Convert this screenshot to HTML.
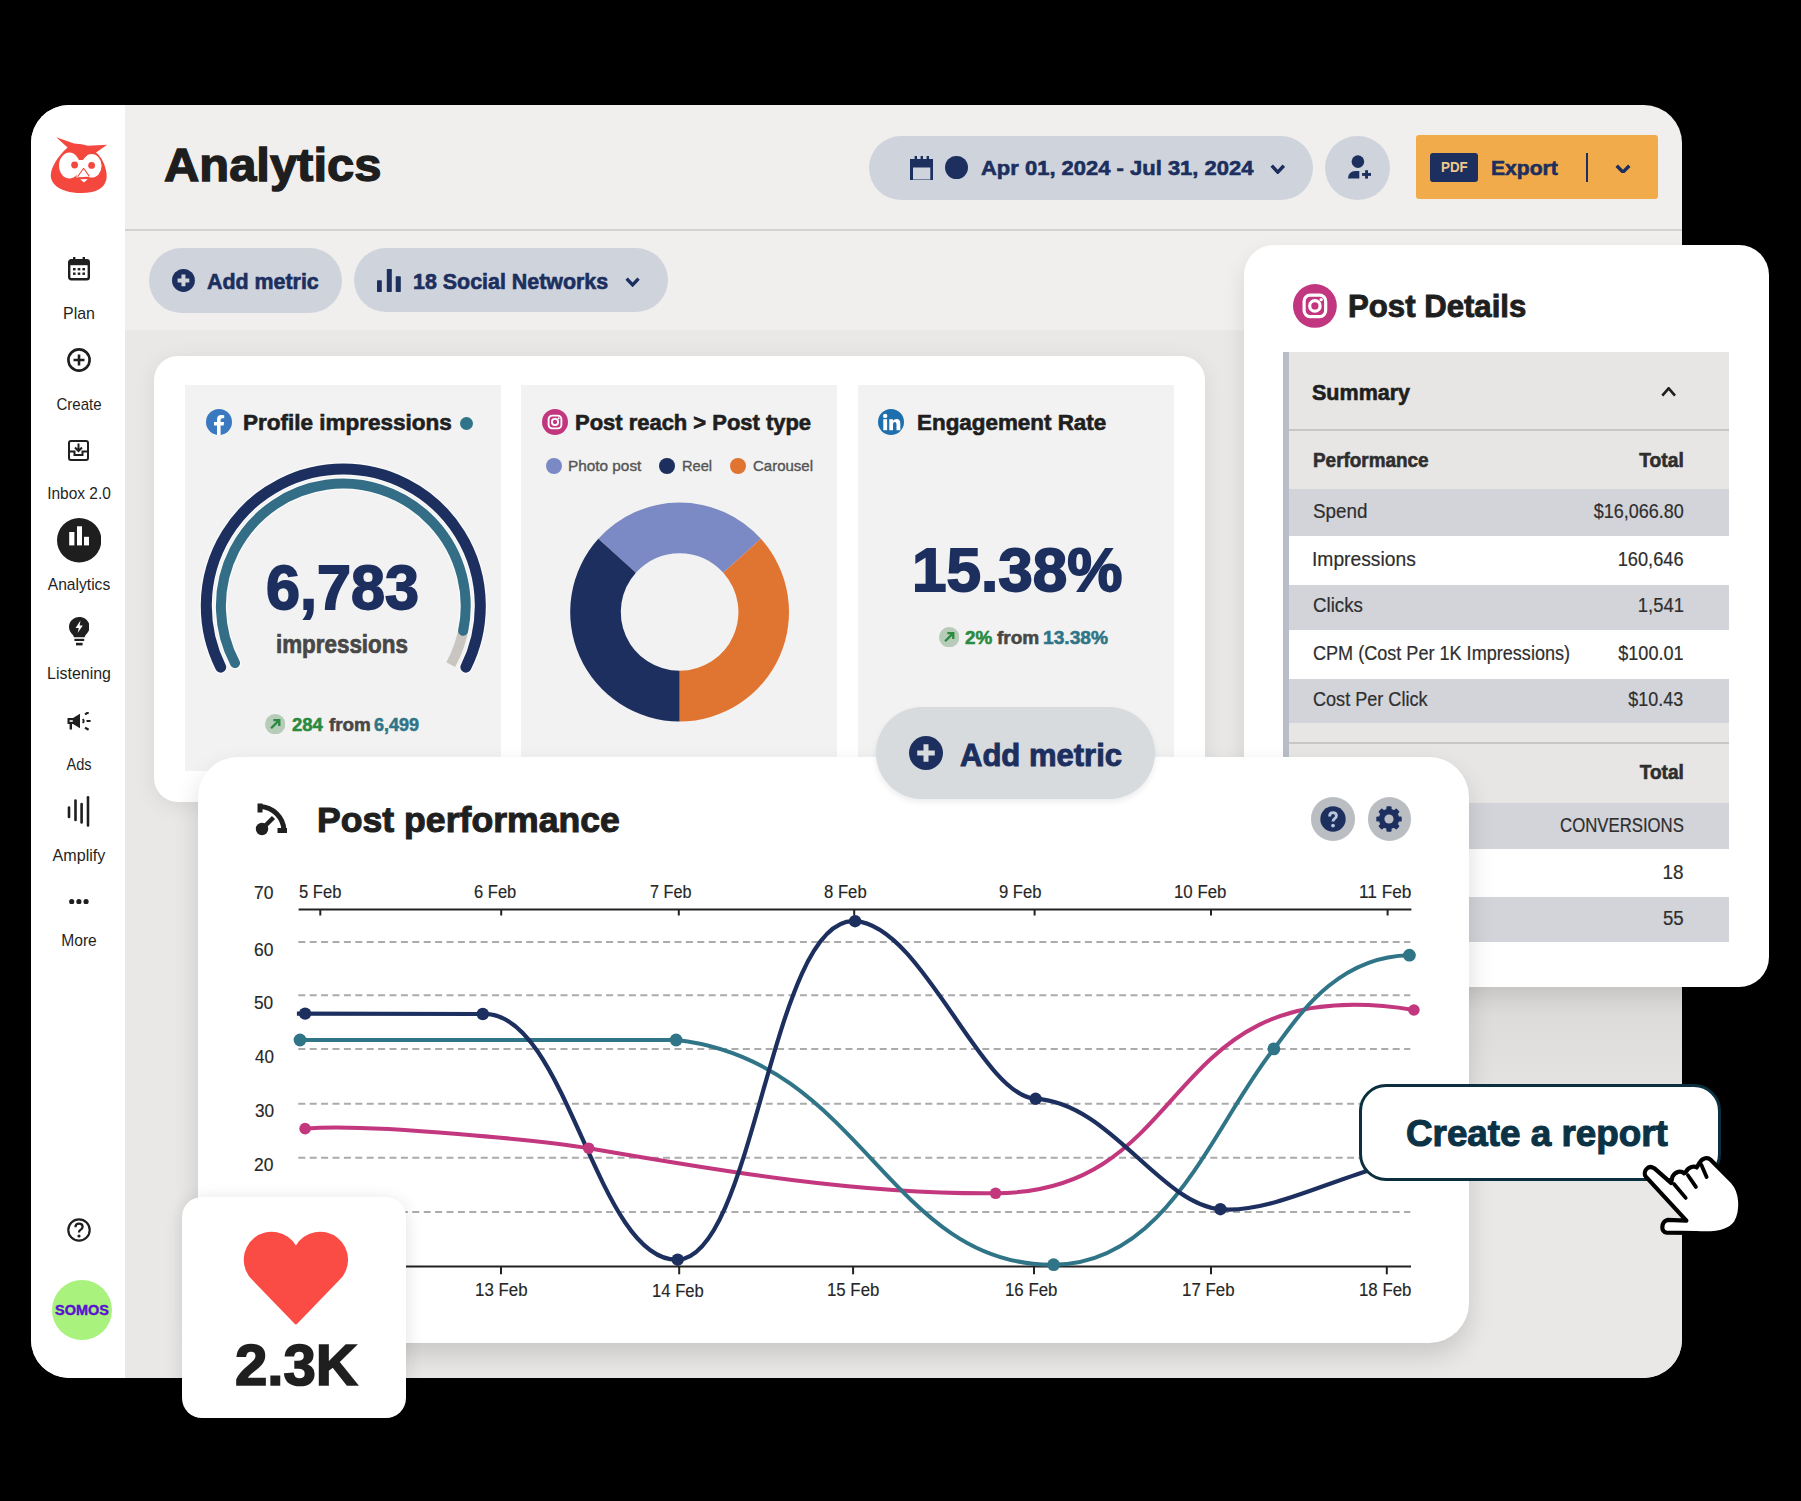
<!DOCTYPE html>
<html><head><meta charset="utf-8"><title>Analytics</title>
<style>
html,body{margin:0;padding:0;}
body{width:1801px;height:1501px;background:#000;position:relative;overflow:hidden;font-family:"Liberation Sans",sans-serif;}
.t{position:absolute;white-space:nowrap;line-height:1;display:block;}
.a{position:absolute;}
svg{display:block;}
</style></head><body>
<div class="a" style="left:31.0px;top:105.0px;width:1651.0px;height:1273.0px;background:#f0efee;border-radius:38px;"></div><div class="a" style="left:31px;top:105px;width:1651px;height:1273px;border-radius:38px;overflow:hidden;"><div class="a" style="left:94px;top:225px;width:1557px;height:1048px;background:#e9e8e7;"></div><div class="a" style="left:0;top:0;width:94px;height:1273px;background:#fff;"></div></div><div class="a" style="left:125.0px;top:229.0px;width:1557.0px;height:2.0px;background:#d3d2d1;"></div><div class="a" style="left:1469.0px;top:987.0px;width:213.0px;height:153.0px;background:linear-gradient(#dad9d8, rgba(233,232,231,0));"></div><svg class="a" style="left:50.0px;top:136.0px;" width="58" height="60" viewBox="0 0 58 60"><path fill="#f4473d" d="M6.2 1.2 L24 7.6 Q32 8.2 38 9.8 L57.2 8.8 L46 16.6 C51.5 21 55.6 29 56.6 38 C57.6 47 52 54 42 56 C34 57.6 24 57.4 16 55 C6 52 0.4 46 0.8 39 C1.2 31 7 21 17.6 11.4 Z"/><ellipse cx="19.4" cy="29.6" rx="10.4" ry="13" fill="#fff"/><ellipse cx="41.6" cy="29.8" rx="10" ry="11.8" fill="#fff"/><path fill="#fff" d="M26.5 24 L37 24 L40.5 40.5 L26.5 41.5 Z"/><path fill="#f4473d" d="M27.2 17 L39.6 17 L33.6 22.8 Z"/><path d="M33.6 32.2 L27.6 40.8 M33.6 32.2 L39.4 40.4 M28.6 41.8 Q34 42.8 39.2 41.4" fill="none" stroke="#f4473d" stroke-width="1.1"/><circle cx="24.6" cy="29" r="3.4" fill="#f4473d"/><circle cx="41.6" cy="29.4" r="3.4" fill="#f4473d"/><path fill="#fff" d="M30.2 43.2 L37.8 43 L34 46.6 Z"/></svg><svg class="a" style="left:68.0px;top:257.0px;" width="22" height="24" viewBox="0 0 22 24"><rect x="1.2" y="3.2" width="19.6" height="19" rx="2" fill="none" stroke="#1f1f1f" stroke-width="2.4"/><rect x="1.2" y="3.2" width="19.6" height="5" fill="#1f1f1f"/><rect x="5" y="0" width="2.4" height="4" fill="#1f1f1f"/><rect x="14.6" y="0" width="2.4" height="4" fill="#1f1f1f"/><g fill="#1f1f1f"><rect x="5" y="11" width="2.6" height="2.4"/><rect x="9.7" y="11" width="2.6" height="2.4"/><rect x="14.4" y="11" width="2.6" height="2.4"/><rect x="5" y="15.5" width="2.6" height="2.4"/><rect x="9.7" y="15.5" width="2.6" height="2.4"/><rect x="14.4" y="15.5" width="2.6" height="2.4"/></g></svg><span class="t" id="t0" style="top:306.01px;font-size:15.99px;font-weight:400;color:#1f1f1f;left:79.06px;transform-origin:50% 0;transform:translateX(-50%) scaleX(0.9983);">Plan</span><svg class="a" style="left:67.2px;top:348.0px;" width="24" height="24" viewBox="0 0 24 24"><circle cx="12" cy="12" r="10.6" fill="none" stroke="#1f1f1f" stroke-width="2.6"/><path d="M12 6.5 V17.5 M6.5 12 H17.5" stroke="#1f1f1f" stroke-width="2.6"/></svg><span class="t" id="t1" style="top:397.01px;font-size:15.99px;font-weight:400;color:#1f1f1f;left:79.15px;transform-origin:50% 0;transform:translateX(-50%) scaleX(0.9427);">Create</span><svg class="a" style="left:68.0px;top:440.0px;" width="21" height="21" viewBox="0 0 21 21"><rect x="1" y="1" width="19" height="19" rx="2" fill="none" stroke="#1f1f1f" stroke-width="2"/><path d="M1 11.5 H6.5 V15 H14.5 V11.5 H20" fill="none" stroke="#1f1f1f" stroke-width="2"/><path d="M10.5 3.5 V10.5 M7 7.5 L10.5 11 L14 7.5" fill="none" stroke="#1f1f1f" stroke-width="2"/></svg><span class="t" id="t2" style="top:486.00px;font-size:15.99px;font-weight:400;color:#1f1f1f;left:78.79px;transform-origin:50% 0;transform:translateX(-50%) scaleX(0.9676);">Inbox 2.0</span><svg class="a" style="left:56.8px;top:518.3px;" width="44.4" height="44.4" viewBox="0 0 44.4 44.4"><circle cx="22.2" cy="22.2" r="22.2" fill="#1e1e1e"/><g fill="#fff"><rect x="12.2" y="14" width="5.2" height="13.4"/><rect x="20" y="8.3" width="5" height="19.1"/><rect x="27" y="18.8" width="5" height="8.6"/></g></svg><span class="t" id="t3" style="top:577.01px;font-size:15.99px;font-weight:400;color:#1f1f1f;left:79.47px;transform-origin:50% 0;transform:translateX(-50%) scaleX(0.9754);">Analytics</span><svg class="a" style="left:68.8px;top:616.5px;" width="20.6" height="29" viewBox="0 0 20.6 29"><path fill="#1f1f1f" d="M10.3 0 C16 0 20.6 4.4 20.6 10 C20.6 13.6 18.6 16 16.6 18 L15.6 20.3 H5 L4 18 C2 16 0 13.6 0 10 C0 4.4 4.6 0 10.3 0 Z"/><path fill="#fff" d="M11.5 3.5 L6.6 11 H9.8 L8.6 16 L13.8 8.6 H10.6 Z"/><rect x="5.4" y="21.8" width="9.8" height="2.2" fill="#1f1f1f"/><rect x="7" y="25.8" width="6.6" height="2.6" fill="#1f1f1f"/></svg><span class="t" id="t4" style="top:666.00px;font-size:15.99px;font-weight:400;color:#1f1f1f;left:79.06px;transform-origin:50% 0;transform:translateX(-50%) scaleX(0.9974);">Listening</span><svg class="a" style="left:67.3px;top:712.0px;" width="24" height="18.5" viewBox="0 0 24 18.5"><path fill="#1f1f1f" d="M0.5 6 H6 L13 1.8 V16.2 L6 12 H5 V17.5 H2.6 V12 H0.5 Z"/><path fill="#fff" d="M2.6 8.2 H5.8 V9.8 H2.6 Z"/><path d="M15.8 7 Q17.6 9 15.8 11" fill="none" stroke="#1f1f1f" stroke-width="1.8"/><path d="M18 2.4 L21.6 0.2 M19.5 9 H23.6 M18 15.6 L21.6 17.8" stroke="#1f1f1f" stroke-width="2.2"/></svg><span class="t" id="t5" style="top:757.01px;font-size:15.99px;font-weight:400;color:#1f1f1f;left:79.45px;transform-origin:50% 0;transform:translateX(-50%) scaleX(0.9132);">Ads</span><svg class="a" style="left:67.0px;top:795.5px;" width="23" height="31" viewBox="0 0 23 31"><g stroke="#1f1f1f" stroke-width="2.6" stroke-linecap="round"><path d="M2 11.5 V21"/><path d="M8.5 4.5 V24"/><path d="M14.6 8 V26.5"/><path d="M21 1.3 V29.5"/></g></svg><span class="t" id="t6" style="top:848.02px;font-size:15.99px;font-weight:400;color:#1f1f1f;left:79.20px;transform-origin:50% 0;transform:translateX(-50%) scaleX(1.0068);">Amplify</span><svg class="a" style="left:69.4px;top:898.7px;" width="20" height="5.4" viewBox="0 0 20 5.4"><g fill="#1f1f1f"><circle cx="2.7" cy="2.7" r="2.6"/><circle cx="9.9" cy="2.7" r="2.6"/><circle cx="17.1" cy="2.7" r="2.6"/></g></svg><span class="t" id="t7" style="top:933.02px;font-size:15.99px;font-weight:400;color:#1f1f1f;left:78.91px;transform-origin:50% 0;transform:translateX(-50%) scaleX(0.9767);">More</span><svg class="a" style="left:67.0px;top:1218.0px;" width="24" height="24" viewBox="0 0 24 24"><circle cx="12" cy="12" r="10.7" fill="none" stroke="#1f1f1f" stroke-width="2.2"/><path d="M8.4 9.2 Q8.4 5.6 12 5.6 Q15.6 5.6 15.6 8.8 Q15.6 10.8 13.3 12 Q12 12.7 12 14.6" fill="none" stroke="#1f1f1f" stroke-width="2.3"/><circle cx="12" cy="18" r="1.6" fill="#1f1f1f"/></svg><div class="a" style="left:51.6px;top:1280.2px;width:60.0px;height:60.0px;background:#a8f27d;border-radius:50%;"></div><span class="t" id="t8" style="top:1303.01px;font-size:14.36px;font-weight:700;color:#5a12cf;left:81.67px;transform-origin:50% 0;transform:translateX(-50%) scaleX(1.0074);-webkit-text-stroke:0.42px #5a12cf;">SOMOS</span><span class="t" id="t9" style="top:141.01px;font-size:46.99px;font-weight:700;color:#1e1e1e;left:163.70px;transform-origin:0 0;transform:scaleX(1.0404);-webkit-text-stroke:1.37px #1e1e1e;">Analytics</span><div class="a" style="left:869.0px;top:135.5px;width:444.4px;height:64.0px;background:#cfd4dc;border-radius:32px;"></div><svg class="a" style="left:909.8px;top:155.9px;" width="23.3" height="24" viewBox="0 0 23.3 24"><rect x="1.5" y="4.5" width="20.3" height="20.5" fill="none" stroke="#1c2f5e" stroke-width="3"/><rect x="1.5" y="3" width="20.3" height="8.5" fill="#1c2f5e"/><rect x="4.6" y="0" width="2.4" height="4" fill="#1c2f5e"/><rect x="10.6" y="0" width="2.4" height="4" fill="#1c2f5e"/><rect x="16.6" y="0" width="2.4" height="4" fill="#1c2f5e"/></svg><div class="a" style="left:945.0px;top:155.9px;width:23.0px;height:23.5px;background:#1c2f5e;border-radius:50%;"></div><span class="t" id="t10" style="top:158.01px;font-size:20.64px;font-weight:700;color:#1c2f5e;left:980.67px;transform-origin:0 0;transform:scaleX(1.0656);-webkit-text-stroke:0.60px #1c2f5e;">Apr 01, 2024 - Jul 31, 2024</span><svg class="a" style="left:1269.5px;top:164.3px;" width="15.5" height="9.9" viewBox="0 0 15.5 9.9"><path d="M1.70 1.70 L7.75 8.20 L13.80 1.70" fill="none" stroke="#1c2f5e" stroke-width="3.40" stroke-linecap="butt" stroke-linejoin="miter"/></svg><div class="a" style="left:1325.4px;top:135.5px;width:64.6px;height:64.5px;background:#cfd4dc;border-radius:50%;"></div><svg class="a" style="left:1347.0px;top:155.0px;" width="24" height="24" viewBox="0 0 24 24"><circle cx="10.9" cy="6.6" r="6.3" fill="#1c2f5e"/><path d="M0.9 23.6 Q1.4 16.1 8.5 16.1 H12.3 V23.6 Z" fill="#1c2f5e"/><rect x="18.1" y="15.2" width="2.9" height="8.4" fill="#1c2f5e"/><rect x="15.1" y="18" width="8.9" height="2.9" fill="#1c2f5e"/></svg><div class="a" style="left:1415.8px;top:135.0px;width:242.2px;height:64.0px;background:#f2ab4a;border-radius:3px;"></div><div class="a" style="left:1430.2px;top:152.5px;width:48.1px;height:29.2px;background:#1c2f5e;border-radius:3px;"></div><span class="t" id="t11" style="top:160.01px;font-size:14.53px;font-weight:700;color:#f0c88a;left:1440.80px;transform-origin:0 0;transform:scaleX(0.9222);">PDF</span><span class="t" id="t12" style="top:158.00px;font-size:20.64px;font-weight:700;color:#1c2f5e;left:1491.00px;transform-origin:0 0;transform:scaleX(1.0236);-webkit-text-stroke:0.60px #1c2f5e;">Export</span><div class="a" style="left:1586.0px;top:152.5px;width:2.2px;height:29.2px;background:#1c2f5e;"></div><svg class="a" style="left:1615.0px;top:163.7px;" width="16" height="9.8" viewBox="0 0 16 9.8"><path d="M1.70 1.70 L8.00 8.10 L14.30 1.70" fill="none" stroke="#1c2f5e" stroke-width="3.40" stroke-linecap="butt" stroke-linejoin="miter"/></svg><div class="a" style="left:148.7px;top:248.0px;width:193.8px;height:65.0px;background:#cfd4dc;border-radius:33px;"></div><svg class="a" style="left:171.9px;top:269.1px;" width="22.9" height="22.9" viewBox="0 0 22.9 22.9"><circle cx="11.45" cy="11.45" r="11.45" fill="#1c2f5e"/><path d="M11.45 5.6 V17.3 M5.6 11.45 H17.3" stroke="#cfd4dc" stroke-width="4"/></svg><span class="t" id="t13" style="top:271.01px;font-size:21.75px;font-weight:700;color:#1c2f5e;left:206.78px;transform-origin:0 0;transform:scaleX(0.9834);-webkit-text-stroke:0.63px #1c2f5e;">Add metric</span><div class="a" style="left:354.0px;top:248.2px;width:314.0px;height:64.2px;background:#cfd4dc;border-radius:33px;"></div><svg class="a" style="left:377.0px;top:269.0px;" width="24" height="23" viewBox="0 0 24 23"><g fill="#1c2f5e"><rect x="0" y="11.2" width="4.8" height="11.7" rx="0.6"/><rect x="9.8" y="0" width="5" height="22.9" rx="0.6"/><rect x="18.7" y="7.3" width="5.1" height="15.6" rx="0.6"/></g></svg><span class="t" id="t14" style="top:271.01px;font-size:21.61px;font-weight:700;color:#1c2f5e;left:413.26px;transform-origin:0 0;transform:scaleX(0.9909);-webkit-text-stroke:0.63px #1c2f5e;">18 Social Networks</span><svg class="a" style="left:625.0px;top:277.4px;" width="15.2" height="9.6" viewBox="0 0 15.2 9.6"><path d="M1.65 1.65 L7.60 7.95 L13.55 1.65" fill="none" stroke="#1c2f5e" stroke-width="3.30" stroke-linecap="butt" stroke-linejoin="miter"/></svg><div class="a" style="left:154.0px;top:356.0px;width:1051.0px;height:446.0px;background:#fff;border-radius:24px;box-shadow:0 4px 22px rgba(0,0,0,0.08);"></div><div class="a" style="left:185.3px;top:385.3px;width:315.3px;height:385.7px;background:#f2f2f2;"></div><div class="a" style="left:521.2px;top:385.3px;width:316.0px;height:385.7px;background:#f2f2f2;"></div><div class="a" style="left:857.8px;top:385.3px;width:315.8px;height:385.7px;background:#f2f2f2;"></div><svg class="a" style="left:205.9px;top:408.7px;" width="26" height="26" viewBox="0 0 26 26"><circle cx="13" cy="13" r="13" fill="#3a78bf"/><path fill="#fff" d="M14.6 26 V16.6 H17.6 L18.1 13 H14.6 V10.8 Q14.6 9.3 16.2 9.3 H18.2 V6.2 Q17 6 15.4 6 Q11 6 11 10.3 V13 H8 V16.6 H11 V26 Z"/></svg><span class="t" id="t15" style="top:412.00px;font-size:21.75px;font-weight:700;color:#1f1f1f;left:242.82px;transform-origin:0 0;transform:scaleX(1.0348);-webkit-text-stroke:0.63px #1f1f1f;">Profile impressions</span><div class="a" style="left:460.1px;top:417.1px;width:12.9px;height:12.9px;background:#2f7587;border-radius:50%;"></div><svg class="a" style="left:0.0px;top:0.0px;pointer-events:none;" width="1801" height="1501" viewBox="0 0 1801 1501"><path d="M220.69 667.13 A137.00 137.00 0 1 1 465.91 667.13" fill="none" stroke="#fbfbfb" stroke-width="13.5" stroke-linecap="round"/><path d="M235.03 663.09 A122.40 122.40 0 1 1 463.16 630.82" fill="none" stroke="#fbfbfb" stroke-width="12.5" stroke-linecap="round"/><path d="M220.69 667.13 A137.00 137.00 0 1 1 465.91 667.13" fill="none" stroke="#1c2f5e" stroke-width="11" stroke-linecap="round"/><path d="M464.51 623.03 A122.40 122.40 0 0 1 450.77 664.59" fill="none" stroke="#c9c6c2" stroke-width="10" stroke-linecap="butt"/><path d="M235.03 663.09 A122.40 122.40 0 1 1 463.16 630.82" fill="none" stroke="#336e86" stroke-width="10" stroke-linecap="round"/></svg><span class="t" id="t16" style="top:557.01px;font-size:62.05px;font-weight:700;color:#1c2f5e;left:266.45px;transform-origin:0 0;transform:scaleX(0.9849);-webkit-text-stroke:1.81px #1c2f5e;">6,783</span><span class="t" id="t17" style="top:632.02px;font-size:25.40px;font-weight:700;color:#474747;left:276.45px;transform-origin:0 0;transform:scaleX(0.8815);-webkit-text-stroke:0.71px #474747;">impressions</span><svg class="a" style="left:264.5px;top:713.8px;" width="20.4" height="20.4" viewBox="0 0 20 20"><circle cx="10" cy="10" r="10" fill="#b7cbb9"/><path d="M6 14 L13.2 6.8" stroke="#2a8a3f" stroke-width="2.3"/><path d="M8.2 6 H14 V11.8" fill="none" stroke="#2a8a3f" stroke-width="2.3"/></svg><span class="t" id="t18" style="top:717.00px;font-size:17.57px;font-weight:700;color:#2a8a3f;left:292.33px;transform-origin:0 0;transform:scaleX(1.0517);-webkit-text-stroke:0.51px #2a8a3f;">284</span><span class="t" id="t19" style="top:717.00px;font-size:17.57px;font-weight:700;color:#474747;left:328.95px;transform-origin:0 0;transform:scaleX(1.0729);-webkit-text-stroke:0.51px #474747;">from</span><span class="t" id="t20" style="top:717.00px;font-size:17.57px;font-weight:700;color:#2f7587;left:374.20px;transform-origin:0 0;transform:scaleX(1.0265);-webkit-text-stroke:0.51px #2f7587;">6,499</span><svg class="a" style="left:542.0px;top:408.7px;" width="26" height="26" viewBox="0 0 26 26"><circle cx="13" cy="13" r="13" fill="#c2357f"/><rect x="6.6" y="6.6" width="12.8" height="12.8" rx="3.6" fill="none" stroke="#fff" stroke-width="1.9"/><circle cx="13" cy="13" r="3.1" fill="none" stroke="#fff" stroke-width="1.9"/><circle cx="16.7" cy="9.3" r="1" fill="#fff"/></svg><span class="t" id="t21" style="top:412.00px;font-size:21.75px;font-weight:700;color:#1f1f1f;left:574.55px;transform-origin:0 0;transform:scaleX(1.0093);-webkit-text-stroke:0.63px #1f1f1f;">Post reach &gt; Post type</span><div class="a" style="left:546.3px;top:458.0px;width:15.8px;height:15.8px;background:#7b8ac4;border-radius:50%;"></div><span class="t" id="t22" style="top:459.00px;font-size:14.17px;font-weight:400;color:#555;left:568.43px;transform-origin:0 0;transform:scaleX(1.0832);-webkit-text-stroke:0.35px #555;">Photo post</span><div class="a" style="left:658.8px;top:458.0px;width:15.8px;height:15.8px;background:#1c2f5e;border-radius:50%;"></div><span class="t" id="t23" style="top:459.00px;font-size:14.17px;font-weight:400;color:#555;left:681.68px;transform-origin:0 0;transform:scaleX(1.0346);-webkit-text-stroke:0.35px #555;">Reel</span><div class="a" style="left:729.9px;top:458.0px;width:15.8px;height:15.8px;background:#e07431;border-radius:50%;"></div><span class="t" id="t24" style="top:459.00px;font-size:14.17px;font-weight:400;color:#555;left:753.22px;transform-origin:0 0;transform:scaleX(1.0593);-webkit-text-stroke:0.35px #555;">Carousel</span><svg class="a" style="left:0.0px;top:0.0px;" width="1801" height="1501" viewBox="0 0 1801 1501"><path fill="#7b8ac4" d="M598.30 538.80 A109.40 109.40 0 0 1 760.90 538.80 L723.30 572.66 A58.80 58.80 0 0 0 635.90 572.66 Z"/><path fill="#e07431" d="M760.90 538.80 A109.40 109.40 0 0 1 679.60 721.40 L679.60 670.80 A58.80 58.80 0 0 0 723.30 572.66 Z"/><path fill="#1c2f5e" d="M679.60 721.40 A109.40 109.40 0 0 1 598.30 538.80 L635.90 572.66 A58.80 58.80 0 0 0 679.60 670.80 Z"/></svg><svg class="a" style="left:878.2px;top:408.7px;" width="26" height="26" viewBox="0 0 26 26"><circle cx="13" cy="13" r="13" fill="#1e6fae"/><rect x="5.3" y="10.2" width="3.8" height="11" fill="#fff"/><circle cx="7.2" cy="6.9" r="2.2" fill="#fff"/><path fill="#fff" d="M11.3 10.2 H14.9 V11.8 Q16.1 9.9 18.7 9.9 Q22.3 9.9 22.3 14.4 V21.2 H18.5 V15.2 Q18.5 13.1 16.8 13.1 Q15 13.1 15 15.3 V21.2 H11.3 Z"/></svg><span class="t" id="t25" style="top:412.00px;font-size:21.75px;font-weight:700;color:#1f1f1f;left:916.73px;transform-origin:0 0;transform:scaleX(1.0300);-webkit-text-stroke:0.63px #1f1f1f;">Engagement Rate</span><span class="t" id="t26" style="top:539.01px;font-size:61.63px;font-weight:700;color:#1c2f5e;left:912.20px;transform-origin:0 0;transform:scaleX(1.0068);-webkit-text-stroke:1.80px #1c2f5e;">15.38%</span><svg class="a" style="left:938.5px;top:626.9px;" width="20.4" height="20.4" viewBox="0 0 20 20"><circle cx="10" cy="10" r="10" fill="#b7cbb9"/><path d="M6 14 L13.2 6.8" stroke="#2a8a3f" stroke-width="2.3"/><path d="M8.2 6 H14 V11.8" fill="none" stroke="#2a8a3f" stroke-width="2.3"/></svg><span class="t" id="t27" style="top:630.01px;font-size:17.85px;font-weight:700;color:#2a8a3f;left:964.72px;transform-origin:0 0;transform:scaleX(1.0555);-webkit-text-stroke:0.52px #2a8a3f;">2%</span><span class="t" id="t28" style="top:630.01px;font-size:17.85px;font-weight:700;color:#474747;left:997.25px;transform-origin:0 0;transform:scaleX(1.0663);-webkit-text-stroke:0.52px #474747;">from</span><span class="t" id="t29" style="top:630.01px;font-size:17.85px;font-weight:700;color:#2f7587;left:1042.77px;transform-origin:0 0;transform:scaleX(1.0737);-webkit-text-stroke:0.52px #2f7587;">13.38%</span><div class="a" style="left:1244.0px;top:245.0px;width:524.7px;height:741.6px;background:#fff;border-radius:30px;box-shadow:0 10px 22px rgba(0,0,0,0.10);"></div><svg class="a" style="left:1293.1px;top:284.1px;" width="43.8" height="43.8" viewBox="0 0 26 26"><circle cx="13" cy="13" r="13" fill="#c2357f"/><rect x="6.6" y="6.6" width="12.8" height="12.8" rx="3.6" fill="none" stroke="#fff" stroke-width="1.9"/><circle cx="13" cy="13" r="3.1" fill="none" stroke="#fff" stroke-width="1.9"/><circle cx="16.7" cy="9.3" r="1" fill="#fff"/></svg><span class="t" id="t30" style="top:290.00px;font-size:32.07px;font-weight:700;color:#1f1f1f;left:1347.77px;transform-origin:0 0;transform:scaleX(0.9716);-webkit-text-stroke:0.94px #1f1f1f;">Post Details</span><div class="a" style="left:1283.2px;top:352.2px;width:5.5px;height:590.3px;background:#b9bdc7;"></div><div class="a" style="left:1288.7px;top:352.2px;width:440.8px;height:77.1px;background:#e8e6e5;"></div><div class="a" style="left:1288.7px;top:429.3px;width:440.8px;height:1.9px;background:#c8c7c6;"></div><div class="a" style="left:1288.7px;top:431.2px;width:440.8px;height:58.2px;background:#e8e6e5;"></div><div class="a" style="left:1288.7px;top:489.4px;width:440.8px;height:47.0px;background:#d2d4d9;"></div><div class="a" style="left:1288.7px;top:536.4px;width:440.8px;height:48.2px;background:#ffffff;"></div><div class="a" style="left:1288.7px;top:584.6px;width:440.8px;height:45.4px;background:#d2d4d9;"></div><div class="a" style="left:1288.7px;top:630.0px;width:440.8px;height:48.5px;background:#ffffff;"></div><div class="a" style="left:1288.7px;top:678.5px;width:440.8px;height:44.0px;background:#d2d4d9;"></div><div class="a" style="left:1288.7px;top:722.5px;width:440.8px;height:19.9px;background:#e8e6e5;"></div><div class="a" style="left:1288.7px;top:742.4px;width:440.8px;height:2.0px;background:#c8c7c6;"></div><div class="a" style="left:1288.7px;top:744.4px;width:440.8px;height:58.2px;background:#e8e6e5;"></div><div class="a" style="left:1288.7px;top:802.6px;width:440.8px;height:46.6px;background:#d2d4d9;"></div><div class="a" style="left:1288.7px;top:849.2px;width:440.8px;height:47.6px;background:#ffffff;"></div><div class="a" style="left:1288.7px;top:896.8px;width:440.8px;height:45.7px;background:#d2d4d9;"></div><span class="t" id="t31" style="top:382.00px;font-size:22.31px;font-weight:700;color:#1f1f1f;left:1312.09px;transform-origin:0 0;transform:scaleX(0.9652);-webkit-text-stroke:0.65px #1f1f1f;">Summary</span><svg class="a" style="left:1660.7px;top:387.0px;" width="15.3" height="10" viewBox="0 0 15.3 10"><path d="M1.30 8.70 L7.65 1.30 L14.00 8.70" fill="none" stroke="#1f1f1f" stroke-width="2.60" stroke-linecap="butt" stroke-linejoin="miter"/></svg><span class="t" id="t32" style="top:451.00px;font-size:19.80px;font-weight:700;color:#2e2e2e;left:1312.51px;transform-origin:0 0;transform:scaleX(0.9560);-webkit-text-stroke:0.58px #2e2e2e;">Performance</span><span class="t" id="t33" style="top:451.00px;font-size:19.80px;font-weight:700;color:#2e2e2e;right:117.22px;transform-origin:100% 0;transform:scaleX(0.9717);-webkit-text-stroke:0.58px #2e2e2e;">Total</span><span class="t" id="t34" style="top:501.02px;font-size:20.35px;font-weight:400;color:#2e2e2e;left:1312.74px;transform-origin:0 0;transform:scaleX(0.9259);-webkit-text-stroke:0.20px #2e2e2e;">Spend</span><span class="t" id="t35" style="top:501.02px;font-size:20.35px;font-weight:400;color:#2e2e2e;right:117.68px;transform-origin:100% 0;transform:scaleX(0.8858);-webkit-text-stroke:0.20px #2e2e2e;">$16,066.80</span><span class="t" id="t36" style="top:549.01px;font-size:20.35px;font-weight:400;color:#2e2e2e;left:1311.82px;transform-origin:0 0;transform:scaleX(0.9462);-webkit-text-stroke:0.20px #2e2e2e;">Impressions</span><span class="t" id="t37" style="top:549.01px;font-size:20.35px;font-weight:400;color:#2e2e2e;right:117.59px;transform-origin:100% 0;transform:scaleX(0.8959);-webkit-text-stroke:0.20px #2e2e2e;">160,646</span><span class="t" id="t38" style="top:595.01px;font-size:20.35px;font-weight:400;color:#2e2e2e;left:1312.64px;transform-origin:0 0;transform:scaleX(0.9203);-webkit-text-stroke:0.20px #2e2e2e;">Clicks</span><span class="t" id="t39" style="top:595.01px;font-size:20.35px;font-weight:400;color:#2e2e2e;right:117.49px;transform-origin:100% 0;transform:scaleX(0.9054);-webkit-text-stroke:0.20px #2e2e2e;">1,541</span><span class="t" id="t40" style="top:643.02px;font-size:20.35px;font-weight:400;color:#2e2e2e;left:1312.67px;transform-origin:0 0;transform:scaleX(0.8882);-webkit-text-stroke:0.20px #2e2e2e;">CPM (Cost Per 1K Impressions)</span><span class="t" id="t41" style="top:643.02px;font-size:20.35px;font-weight:400;color:#2e2e2e;right:117.51px;transform-origin:100% 0;transform:scaleX(0.8875);-webkit-text-stroke:0.20px #2e2e2e;">$100.01</span><span class="t" id="t42" style="top:689.01px;font-size:20.35px;font-weight:400;color:#2e2e2e;left:1312.67px;transform-origin:0 0;transform:scaleX(0.8884);-webkit-text-stroke:0.20px #2e2e2e;">Cost Per Click</span><span class="t" id="t43" style="top:689.01px;font-size:20.35px;font-weight:400;color:#2e2e2e;right:117.60px;transform-origin:100% 0;transform:scaleX(0.8818);-webkit-text-stroke:0.20px #2e2e2e;">$10.43</span><span class="t" id="t44" style="top:763.00px;font-size:19.80px;font-weight:700;color:#2e2e2e;right:117.23px;transform-origin:100% 0;transform:scaleX(0.9626);-webkit-text-stroke:0.58px #2e2e2e;">Total</span><span class="t" id="t45" style="top:816.00px;font-size:19.48px;font-weight:400;color:#2e2e2e;right:117.62px;transform-origin:100% 0;transform:scaleX(0.8605);-webkit-text-stroke:0.20px #2e2e2e;">CONVERSIONS</span><span class="t" id="t46" style="top:863.01px;font-size:19.48px;font-weight:400;color:#2e2e2e;right:117.57px;transform-origin:100% 0;transform:scaleX(0.9728);-webkit-text-stroke:0.20px #2e2e2e;">18</span><span class="t" id="t47" style="top:909.00px;font-size:19.48px;font-weight:400;color:#2e2e2e;right:117.61px;transform-origin:100% 0;transform:scaleX(0.9572);-webkit-text-stroke:0.20px #2e2e2e;">55</span><div class="a" style="left:876.0px;top:706.9px;width:279.0px;height:92.4px;background:#d7dbde;border-radius:47px;box-shadow:0 3px 6px rgba(0,0,0,0.08);z-index:5;"></div><svg class="a" style="left:909.3px;top:735.9px;z-index:6;" width="34" height="34" viewBox="0 0 34 34"><circle cx="17" cy="17" r="17" fill="#1c2f5e"/><path d="M17 8.2 V25.8 M8.2 17 H25.8" stroke="#d7dbde" stroke-width="5"/></svg><span class="t" id="t48" style="top:739.01px;font-size:32.07px;font-weight:700;color:#1c2f5e;z-index:6;left:959.58px;transform-origin:0 0;transform:scaleX(0.9676);-webkit-text-stroke:0.94px #1c2f5e;">Add metric</span><div class="a" style="left:197.5px;top:757.2px;width:1271.5px;height:585.8px;background:#fff;border-radius:40px;box-shadow:0 12px 26px rgba(0,0,0,0.14);z-index:2;"></div><svg class="a" style="left:254.5px;top:803.4px;z-index:3;" width="32.5" height="32.5" viewBox="0 0 32.5 32.5"><path d="M5 3.5 A25 25 0 0 1 29 27.5" fill="none" stroke="#1f1f1f" stroke-width="5"/><rect x="2.5" y="0.5" width="5" height="9" fill="#1f1f1f"/><rect x="22.5" y="25" width="9.5" height="5" fill="#1f1f1f"/><circle cx="7" cy="26" r="6.2" fill="#1f1f1f"/><path d="M7 26 L18.5 14.5" stroke="#1f1f1f" stroke-width="4.5"/></svg><span class="t" id="t49" style="top:803.01px;font-size:34.86px;font-weight:700;color:#1f1f1f;z-index:3;left:317.04px;transform-origin:0 0;transform:scaleX(1.0219);-webkit-text-stroke:1.02px #1f1f1f;">Post performance</span><div class="a" style="left:1311.1px;top:797.0px;width:43.6px;height:43.6px;background:#babdc2;border-radius:50%;z-index:3;"></div><div class="a" style="left:1367.5px;top:797.0px;width:43.6px;height:43.6px;background:#babdc2;border-radius:50%;z-index:3;"></div><svg class="a" style="left:1319.9px;top:805.8px;z-index:3;" width="26" height="26" viewBox="0 0 26 26"><circle cx="13" cy="13" r="12.7" fill="#1c2f5e"/><path d="M9.6 10.4 Q9.6 6.6 13 6.6 Q16.4 6.6 16.4 9.8 Q16.4 11.6 14.5 12.7 Q13 13.6 13 15.6" fill="none" stroke="#b8c5dd" stroke-width="2.9"/><circle cx="13" cy="19.6" r="1.9" fill="#b8c5dd"/></svg><svg class="a" style="left:1376.3px;top:805.8px;z-index:3;" width="26" height="26" viewBox="0 0 26 26"><g transform="translate(13 13)"><rect x="-2.6" y="-12.7" width="5.2" height="6" rx="1.2" transform="rotate(0)" fill="#1c2f5e"/><rect x="-2.6" y="-12.7" width="5.2" height="6" rx="1.2" transform="rotate(45)" fill="#1c2f5e"/><rect x="-2.6" y="-12.7" width="5.2" height="6" rx="1.2" transform="rotate(90)" fill="#1c2f5e"/><rect x="-2.6" y="-12.7" width="5.2" height="6" rx="1.2" transform="rotate(135)" fill="#1c2f5e"/><rect x="-2.6" y="-12.7" width="5.2" height="6" rx="1.2" transform="rotate(180)" fill="#1c2f5e"/><rect x="-2.6" y="-12.7" width="5.2" height="6" rx="1.2" transform="rotate(225)" fill="#1c2f5e"/><rect x="-2.6" y="-12.7" width="5.2" height="6" rx="1.2" transform="rotate(270)" fill="#1c2f5e"/><rect x="-2.6" y="-12.7" width="5.2" height="6" rx="1.2" transform="rotate(315)" fill="#1c2f5e"/><circle r="10.2" fill="#1c2f5e"/><circle r="4.6" fill="#babdc2"/></g></svg><span class="t" id="t50" style="top:885.01px;font-size:17.81px;font-weight:400;color:#262626;z-index:3;left:254.28px;transform-origin:0 0;transform:scaleX(0.9814);-webkit-text-stroke:0.15px #262626;">70</span><span class="t" id="t51" style="top:942.00px;font-size:17.81px;font-weight:400;color:#262626;z-index:3;left:254.29px;transform-origin:0 0;transform:scaleX(0.9809);-webkit-text-stroke:0.15px #262626;">60</span><span class="t" id="t52" style="top:995.01px;font-size:17.81px;font-weight:400;color:#262626;z-index:3;left:254.48px;transform-origin:0 0;transform:scaleX(0.9707);-webkit-text-stroke:0.15px #262626;">50</span><span class="t" id="t53" style="top:1049.01px;font-size:17.81px;font-weight:400;color:#262626;z-index:3;left:254.78px;transform-origin:0 0;transform:scaleX(0.9549);-webkit-text-stroke:0.15px #262626;">40</span><span class="t" id="t54" style="top:1103.01px;font-size:17.81px;font-weight:400;color:#262626;z-index:3;left:254.52px;transform-origin:0 0;transform:scaleX(0.9689);-webkit-text-stroke:0.15px #262626;">30</span><span class="t" id="t55" style="top:1157.00px;font-size:17.81px;font-weight:400;color:#262626;z-index:3;left:254.30px;transform-origin:0 0;transform:scaleX(0.9805);-webkit-text-stroke:0.15px #262626;">20</span><span class="t" id="t56" style="top:884.01px;font-size:17.81px;font-weight:400;color:#262626;z-index:3;left:298.61px;transform-origin:0 0;transform:scaleX(0.9318);-webkit-text-stroke:0.15px #262626;">5 Feb</span><span class="t" id="t57" style="top:884.01px;font-size:17.81px;font-weight:400;color:#262626;z-index:3;left:473.73px;transform-origin:0 0;transform:scaleX(0.9290);-webkit-text-stroke:0.15px #262626;">6 Feb</span><span class="t" id="t58" style="top:884.01px;font-size:17.81px;font-weight:400;color:#262626;z-index:3;left:649.73px;transform-origin:0 0;transform:scaleX(0.9132);-webkit-text-stroke:0.15px #262626;">7 Feb</span><span class="t" id="t59" style="top:884.01px;font-size:17.81px;font-weight:400;color:#262626;z-index:3;left:824.04px;transform-origin:0 0;transform:scaleX(0.9376);-webkit-text-stroke:0.15px #262626;">8 Feb</span><span class="t" id="t60" style="top:884.01px;font-size:17.81px;font-weight:400;color:#262626;z-index:3;left:999.09px;transform-origin:0 0;transform:scaleX(0.9344);-webkit-text-stroke:0.15px #262626;">9 Feb</span><span class="t" id="t61" style="top:884.01px;font-size:17.81px;font-weight:400;color:#262626;z-index:3;left:1174.19px;transform-origin:0 0;transform:scaleX(0.9462);-webkit-text-stroke:0.15px #262626;">10 Feb</span><span class="t" id="t62" style="top:884.01px;font-size:17.81px;font-weight:400;color:#262626;z-index:3;left:1358.76px;transform-origin:0 0;transform:scaleX(0.9685);-webkit-text-stroke:0.15px #262626;">11 Feb</span><span class="t" id="t63" style="top:1282.01px;font-size:17.81px;font-weight:400;color:#262626;z-index:3;left:298.29px;transform-origin:0 0;transform:scaleX(0.9443);-webkit-text-stroke:0.15px #262626;">12 Feb</span><span class="t" id="t64" style="top:1282.01px;font-size:17.81px;font-weight:400;color:#262626;z-index:3;left:474.79px;transform-origin:0 0;transform:scaleX(0.9481);-webkit-text-stroke:0.15px #262626;">13 Feb</span><span class="t" id="t65" style="top:1283.01px;font-size:17.81px;font-weight:400;color:#262626;z-index:3;left:651.80px;transform-origin:0 0;transform:scaleX(0.9350);-webkit-text-stroke:0.15px #262626;">14 Feb</span><span class="t" id="t66" style="top:1282.01px;font-size:17.81px;font-weight:400;color:#262626;z-index:3;left:826.79px;transform-origin:0 0;transform:scaleX(0.9443);-webkit-text-stroke:0.15px #262626;">15 Feb</span><span class="t" id="t67" style="top:1282.01px;font-size:17.81px;font-weight:400;color:#262626;z-index:3;left:1005.09px;transform-origin:0 0;transform:scaleX(0.9462);-webkit-text-stroke:0.15px #262626;">16 Feb</span><span class="t" id="t68" style="top:1282.01px;font-size:17.81px;font-weight:400;color:#262626;z-index:3;left:1181.79px;transform-origin:0 0;transform:scaleX(0.9481);-webkit-text-stroke:0.15px #262626;">17 Feb</span><span class="t" id="t69" style="top:1282.01px;font-size:17.81px;font-weight:400;color:#262626;z-index:3;left:1358.79px;transform-origin:0 0;transform:scaleX(0.9462);-webkit-text-stroke:0.15px #262626;">18 Feb</span><svg class="a" style="left:0.0px;top:0.0px;z-index:3;" width="1801" height="1501" viewBox="0 0 1801 1501"><path d="M298.3 942.0 H1410.3" stroke="#ababab" stroke-width="2" stroke-dasharray="7 4.4"/><path d="M298.3 995.3 H1410.3" stroke="#ababab" stroke-width="2" stroke-dasharray="7 4.4"/><path d="M298.3 1049.0 H1410.3" stroke="#ababab" stroke-width="2" stroke-dasharray="7 4.4"/><path d="M298.3 1103.7 H1410.3" stroke="#ababab" stroke-width="2" stroke-dasharray="7 4.4"/><path d="M298.3 1157.7 H1410.3" stroke="#ababab" stroke-width="2" stroke-dasharray="7 4.4"/><path d="M298.3 1212.0 H1410.3" stroke="#ababab" stroke-width="2" stroke-dasharray="7 4.4"/><path d="M298.6 909.4 H1411.4" stroke="#222" stroke-width="2"/><path d="M320.3 909 V915.5" stroke="#222" stroke-width="2"/><path d="M501.2 909 V915.5" stroke="#222" stroke-width="2"/><path d="M678.8 909 V915.5" stroke="#222" stroke-width="2"/><path d="M854.2 909 V915.5" stroke="#222" stroke-width="2"/><path d="M1034.6 909 V915.5" stroke="#222" stroke-width="2"/><path d="M1211.0 909 V915.5" stroke="#222" stroke-width="2"/><path d="M1387.6 909 V915.5" stroke="#222" stroke-width="2"/><path d="M298.6 1266.5 H1411" stroke="#222" stroke-width="2"/><path d="M320.3 1266 V1274.3" stroke="#222" stroke-width="2"/><path d="M501.0 1266 V1274.3" stroke="#222" stroke-width="2"/><path d="M679.2 1266 V1274.3" stroke="#222" stroke-width="2"/><path d="M853.1 1266 V1274.3" stroke="#222" stroke-width="2"/><path d="M1034.0 1266 V1274.3" stroke="#222" stroke-width="2"/><path d="M1211.0 1266 V1274.3" stroke="#222" stroke-width="2"/><path d="M1386.8 1266 V1274.3" stroke="#222" stroke-width="2"/><path d="M305.1 1128.6 C369.9 1122.7 553.2 1142.2 588.7 1148.2 C724.2 1171.6 859.6 1194.6 995.6 1193.3 C1201.3 1191.9 1154.8 967.9 1413.9 1010.0" fill="none" stroke="#c2377e" stroke-width="4"/><path d="M300.0 1040.0 L676.1 1040.0 C862.7 1060.1 888.7 1266.7 1053.6 1264.7 C1168.4 1264.0 1212.6 1125.9 1273.9 1048.9 C1293.3 1024.5 1332.7 956.4 1409.4 955.2" fill="none" stroke="#2f7587" stroke-width="4"/><path d="M296.9 1013.6 L482.8 1014 C567.2 1010.1 596.1 1262.0 677.7 1259.7 C755.3 1256.9 771.4 915.5 855.1 921.2 C922.6 925.5 980.7 1095.7 1035.6 1098.8 C1109.5 1102.2 1160.0 1204.1 1220.4 1209.2 C1277.0 1213.9 1344.1 1169.9 1420.0 1158.0" fill="none" stroke="#1c2f5e" stroke-width="4.2"/><circle cx="305.1" cy="1013.6" r="6.2" fill="#1c2f5e"/><circle cx="482.8" cy="1014.0" r="6.2" fill="#1c2f5e"/><circle cx="677.7" cy="1259.7" r="6.2" fill="#1c2f5e"/><circle cx="855.1" cy="921.2" r="6.2" fill="#1c2f5e"/><circle cx="1035.6" cy="1098.8" r="6.2" fill="#1c2f5e"/><circle cx="1220.4" cy="1209.2" r="6.2" fill="#1c2f5e"/><circle cx="300.0" cy="1040.0" r="6.4" fill="#2f7587"/><circle cx="676.1" cy="1040.0" r="6.4" fill="#2f7587"/><circle cx="1053.6" cy="1264.7" r="6.4" fill="#2f7587"/><circle cx="1273.9" cy="1048.9" r="6.4" fill="#2f7587"/><circle cx="1409.4" cy="955.2" r="6.4" fill="#2f7587"/><circle cx="305.1" cy="1128.6" r="5.8" fill="#c2377e"/><circle cx="588.7" cy="1148.2" r="5.8" fill="#c2377e"/><circle cx="995.6" cy="1193.3" r="5.8" fill="#c2377e"/><circle cx="1413.9" cy="1010.0" r="5.8" fill="#c2377e"/></svg><div class="a" style="left:182.2px;top:1197.3px;width:224.1px;height:220.9px;background:#fff;border-radius:20px;box-shadow:0 3px 18px rgba(0,0,0,0.12);z-index:7;"></div><svg class="a" style="left:240.0px;top:1228.0px;z-index:8;" width="115" height="105" viewBox="0 0 115 105"><path fill="#fa4b44" d="M55.9 17.6 A28 28 0 1 0 12.4 52.0 L54.4 95.6 Q55.9 97.6 57.4 95.6 L99.4 52.0 A28 28 0 1 0 55.9 17.6 Z"/></svg><span class="t" id="t70" style="top:1337.00px;font-size:57.73px;font-weight:700;color:#1f1f1f;z-index:8;left:234.73px;transform-origin:0 0;transform:scaleX(1.0078);-webkit-text-stroke:1.68px #1f1f1f;">2.3K</span><div class="a" style="left:1359.1px;top:1083.6px;width:362.2px;height:97.9px;background:#fff;border:3.1px solid #0b2f3e;border-radius:27px;box-sizing:border-box;z-index:9;"></div><span class="t" id="t71" style="top:1116.00px;font-size:36.25px;font-weight:700;color:#0b3345;z-index:10;left:1406.13px;transform-origin:0 0;transform:scaleX(1.0152);-webkit-text-stroke:1.06px #0b3345;">Create a report</span><svg class="a" style="left:1630.0px;top:1140.0px;z-index:11;" width="130" height="110" viewBox="0 0 130 110"><path fill="#fff" stroke="#000" stroke-width="4.2" stroke-linejoin="round" d="M15.8 36.6 C12.5 32.2 17.6 24.2 24.2 28.2 L41.0 42.9 L42.5 36.6 C45.4 30.8 51.3 30.8 54.2 33.3 L55.7 32.2 C58.6 26.4 64.5 25.6 66.7 27.5 L69.6 22.7 C72.5 17.6 77.7 16.8 80.6 19.8 L102.6 41.8 C111.4 51.3 112.8 69.6 106.2 82.1 C99.6 92.3 84.2 94.5 65.9 93.0 L36.6 92.7 C30.8 92.3 30.8 82.1 37.4 79.9 L56.4 80.6 Z"/><path d="M44.0 44.0 L55.7 57.9 M57.9 35.2 L65.9 46.9 M71.4 24.9 L76.6 37.0" stroke="#000" stroke-width="3.8" stroke-linecap="round" fill="none"/></svg></body></html>
